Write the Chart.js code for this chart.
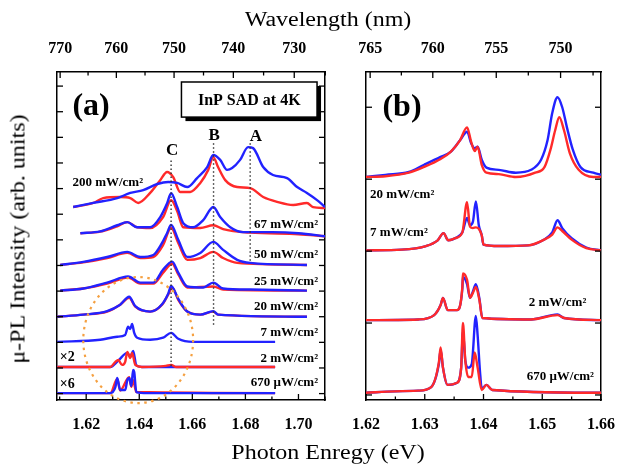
<!DOCTYPE html>
<html>
<head>
<meta charset="utf-8">
<script src="https://cdn.jsdelivr.net/npm/chart.js@4.4.0/dist/chart.umd.min.js"></script>
<style>
  body { margin: 0; background: #fff; width: 622px; height: 465px; position: relative; overflow: hidden; font-family: "Liberation Serif", serif; }
  canvas { position: absolute; top: 0; }
  #chartA { left: 0; }
  #chartB { left: 345px; }
  .axis-title { position: absolute; font-size: 20px; white-space: nowrap; color: #000; }
  #titleTop { left: 328px; top: 19px; transform: translate(-50%, -50%) scaleX(1.2); }
  #titleBottom { left: 328px; top: 452px; transform: translate(-50%, -50%) scaleX(1.2); }
  #titleLeft { left: 18px; top: 239px; transform: translate(-50%, -50%) rotate(-90deg) scaleX(1.2); }
</style>
</head>
<body>
<canvas id="chartA" width="345" height="465"></canvas>
<canvas id="chartB" width="277" height="465"></canvas>
<div class="axis-title" id="titleTop">Wavelength (nm)</div>
<div class="axis-title" id="titleBottom">Photon Enregy (eV)</div>
<div class="axis-title" id="titleLeft">μ-PL Intensity (arb. units)</div>
<script>
// ---- data: panel (a), photon energy (eV) vs intensity above each baseline ----
const powersA = ['200 mW/cm²', '67 mW/cm²', '50 mW/cm²', '25 mW/cm²', '20 mW/cm²', '7 mW/cm²', '2 mW/cm²', '670 μW/cm²'];
const offsetsA = [7.28, 6.26, 5.02, 4.02, 3.0, 2.02, 1.04, 0.02];

const a200Blue = [[1.6151,0],[1.6227,0.16],[1.6317,0.35],[1.6366,0.55],[1.6415,0.66],[1.6468,0.90],[1.6509,0.98],[1.6543,0.94],[1.6581,0.78],[1.6618,1.13],[1.6656,1.56],[1.6679,2.03],[1.6705,1.84],[1.6731,1.45],[1.6750,1.52],[1.6780,1.84],[1.6810,2.34],[1.6829,2.30],[1.6867,1.56],[1.6904,1.25],[1.6957,1.13],[1.6995,0.78],[1.7032,0.55],[1.7070,0.27],[1.7100,0]];
const a200Red = [[1.6151,0],[1.6227,0.16],[1.6264,0.35],[1.6328,0.39],[1.6366,0.35],[1.6396,0.16],[1.6441,0.55],[1.6479,1.05],[1.6505,1.37],[1.6528,1.17],[1.6554,0.59],[1.6592,0.59],[1.6630,0.94],[1.6660,1.45],[1.6679,1.95],[1.6697,1.56],[1.6724,1.05],[1.6769,0.78],[1.6818,0.74],[1.6867,0.39],[1.6920,0.20],[1.6980,0.08],[1.7032,0.16],[1.7055,0.0],[1.7100,-0.04]];
const a67Blue = [[1.6178,0],[1.6253,0.07],[1.6317,0.31],[1.6355,0.43],[1.6392,0.23],[1.6441,0.23],[1.6479,0.63],[1.6505,1.17],[1.6520,1.56],[1.6543,1.02],[1.6566,0.39],[1.6603,0.23],[1.6641,0.51],[1.6679,1.02],[1.6705,0.63],[1.6743,0.23],[1.6791,0.04],[1.6900,0.04],[1.7000,0],[1.7100,-0.12]];
const a67Red = [[1.6178,0],[1.6253,0.06],[1.6317,0.27],[1.6355,0.43],[1.6392,0.23],[1.6441,0.20],[1.6490,0.63],[1.6520,1.29],[1.6543,0.86],[1.6566,0.23],[1.6630,0.20],[1.6679,0.31],[1.6716,0.16],[1.6818,0.02],[1.7000,-0.04],[1.7100,-0.12]];
const a50Blue = [[1.6102,0],[1.6189,0.12],[1.6279,0.31],[1.6355,0.51],[1.6404,0.31],[1.6453,0.39],[1.6486,0.86],[1.6505,1.25],[1.6520,1.56],[1.6547,0.98],[1.6581,0.31],[1.6630,0.47],[1.6679,0.90],[1.6716,0.59],[1.6769,0.20],[1.6818,0.08],[1.7032,0]];
const a50Red = [[1.6102,0],[1.6189,0.10],[1.6279,0.27],[1.6355,0.47],[1.6404,0.27],[1.6453,0.31],[1.6490,0.78],[1.6520,1.45],[1.6547,0.86],[1.6581,0.20],[1.6630,0.27],[1.6679,0.51],[1.6716,0.27],[1.6769,0.08],[1.7032,0]];
const a25Blue = [[1.6102,0],[1.6189,0.08],[1.6279,0.31],[1.6358,0.55],[1.6404,0.31],[1.6453,0.31],[1.6490,0.82],[1.6524,1.13],[1.6547,0.70],[1.6581,0.16],[1.6641,0.12],[1.6679,0.31],[1.6716,0.08],[1.6818,0.04],[1.7032,0]];
const a25Red = [[1.6102,0],[1.6189,0.08],[1.6279,0.27],[1.6358,0.51],[1.6404,0.27],[1.6453,0.27],[1.6490,0.70],[1.6524,1.05],[1.6547,0.63],[1.6581,0.12],[1.6679,0.16],[1.6716,0.04],[1.7032,0]];
const a20Blue = [[1.6091,0],[1.6189,0.08],[1.6279,0.22],[1.6328,0.47],[1.6362,0.78],[1.6385,0.41],[1.6441,0.20],[1.6486,0.49],[1.6509,0.90],[1.6520,1.20],[1.6547,0.70],[1.6581,0.20],[1.6630,0.08],[1.6679,0.22],[1.6697,0.08],[1.7032,0]];
const a20Red = [[1.6091,0],[1.6189,0.08],[1.6279,0.20],[1.6328,0.47],[1.6362,0.74],[1.6385,0.39],[1.6441,0.20],[1.6486,0.47],[1.6509,0.86],[1.6524,1.13],[1.6547,0.66],[1.6581,0.20],[1.6630,0.08],[1.6679,0.20],[1.6697,0.08],[1.7032,0]];
const a7Blue = [[1.6091,0],[1.6253,0.08],[1.6317,0.20],[1.6347,0.27],[1.6358,0.59],[1.6366,0.50],[1.6373,0.70],[1.6381,0.35],[1.6392,0.16],[1.6441,0.08],[1.6490,0.16],[1.6520,0.35],[1.6547,0.12],[1.6603,0],[1.6912,0]];
const a2Blue = [[1.6091,0],[1.6291,0],[1.6321,0.25],[1.6355,0.55],[1.6366,0.40],[1.6377,0.62],[1.6389,0.06],[1.6410,0],[1.6912,0]];
const a2Red = [[1.6091,0],[1.6291,0],[1.6310,0.20],[1.6321,0.27],[1.6335,0.08],[1.6347,0.20],[1.6355,0.59],[1.6366,0.35],[1.6373,0.55],[1.6385,0.08],[1.6410,0],[1.6500,0.04],[1.6520,0.08],[1.6540,0],[1.6912,0]];
const a670Blue = [[1.6091,0],[1.6291,0],[1.6310,0.23],[1.6317,0.59],[1.6328,0.12],[1.6347,0.12],[1.6355,0.51],[1.6362,0.59],[1.6370,0.27],[1.6377,0.90],[1.6381,0.82],[1.6389,0.04],[1.6430,0],[1.6912,0]];
const a670Red = [[1.6091,0],[1.6291,0],[1.6317,0.55],[1.6328,0.10],[1.6362,0.62],[1.6370,0.25],[1.6377,0.50],[1.6389,0.04],[1.6912,0]];

// peak markers A, B, C: energy and vertical extent
const peakNames = ['C', 'B', 'A'];
const peakEnergy = [1.652, 1.668, 1.6818];
const peakTop = [9.1, 9.77, 9.77];
const peakBottom = [1.04, 2.68, 5.1];

// ---- data: panel (b) ----
const powersB = ['20 mW/cm²', '7 mW/cm²', '2 mW/cm²', '670 μW/cm²'];
const offsetsB = [3.03, 2.01, 1.04, 0.03];

const b20Blue = [[1.6200,0],[1.6233,0.03],[1.6273,0.07],[1.6299,0.17],[1.6327,0.28],[1.6344,0.35],[1.6360,0.51],[1.6372,0.63],[1.6379,0.47],[1.6385,0.40],[1.6390,0.42],[1.6397,0.24],[1.6405,0.13],[1.6426,0.10],[1.6455,0.06],[1.6481,0.10],[1.6498,0.24],[1.6509,0.51],[1.6517,0.89],[1.6526,1.11],[1.6534,0.97],[1.6542,0.69],[1.6552,0.38],[1.6565,0.14],[1.6587,0.06],[1.6600,0.03]];
const b20Red = [[1.6200,0],[1.6233,0.01],[1.6273,0.06],[1.6299,0.14],[1.6327,0.25],[1.6344,0.35],[1.6360,0.51],[1.6372,0.69],[1.6379,0.49],[1.6385,0.36],[1.6390,0.42],[1.6397,0.17],[1.6405,0.06],[1.6426,0.04],[1.6455,0.0],[1.6488,0.06],[1.6504,0.14],[1.6514,0.38],[1.6522,0.65],[1.6529,0.83],[1.6537,0.65],[1.6547,0.33],[1.6562,0.10],[1.6587,0.0],[1.6600,0.0]];
const b7Blue = [[1.6200,0],[1.6261,0.01],[1.6302,0.06],[1.6322,0.14],[1.6332,0.24],[1.6340,0.14],[1.6352,0.17],[1.6364,0.25],[1.6372,0.45],[1.6377,0.35],[1.6382,0.40],[1.6387,0.68],[1.6392,0.35],[1.6397,0.21],[1.6400,0.08],[1.6426,0.06],[1.6476,0.07],[1.6501,0.14],[1.6517,0.25],[1.6526,0.42],[1.6534,0.31],[1.6550,0.17],[1.6575,0.04],[1.6600,0]];
const b7Red = [[1.6200,0],[1.6261,0.01],[1.6302,0.06],[1.6322,0.14],[1.6332,0.24],[1.6340,0.14],[1.6352,0.17],[1.6364,0.25],[1.6372,0.67],[1.6377,0.33],[1.6382,0.31],[1.6387,0.32],[1.6392,0.30],[1.6397,0.21],[1.6400,0.08],[1.6426,0.06],[1.6476,0.07],[1.6501,0.14],[1.6517,0.22],[1.6526,0.32],[1.6534,0.27],[1.6550,0.15],[1.6575,0.03],[1.6600,0]];
const b2Blue = [[1.6200,0],[1.6289,0.01],[1.6316,0.07],[1.6327,0.21],[1.6331,0.31],[1.6339,0.14],[1.6355,0.14],[1.6364,0.44],[1.6365,0.60],[1.6372,0.50],[1.6377,0.31],[1.6382,0.40],[1.6387,0.50],[1.6393,0.30],[1.6398,0.03],[1.6481,0.01],[1.6526,0.08],[1.6537,0.03],[1.6600,0]];
const b2Red = [[1.6200,0],[1.6289,0.01],[1.6316,0.07],[1.6327,0.21],[1.6331,0.31],[1.6339,0.14],[1.6355,0.14],[1.6364,0.46],[1.6365,0.65],[1.6372,0.56],[1.6377,0.31],[1.6382,0.38],[1.6387,0.46],[1.6393,0.28],[1.6398,0.03],[1.6481,0.01],[1.6526,0.07],[1.6537,0.03],[1.6600,0]];
const b670Blue = [[1.6200,0],[1.6250,0.02],[1.6289,0.03],[1.6311,0.08],[1.6324,0.40],[1.6327,0.60],[1.6331,0.35],[1.6339,0.11],[1.6355,0.14],[1.6362,0.35],[1.6365,0.85],[1.6369,0.45],[1.6374,0.35],[1.6380,0.40],[1.6387,1.07],[1.6390,0.80],[1.6394,0.30],[1.6397,0.06],[1.6405,0.11],[1.6415,0.04],[1.6600,0]];
const b670Red = [[1.6200,0],[1.6250,0.02],[1.6289,0.03],[1.6311,0.08],[1.6324,0.42],[1.6327,0.63],[1.6331,0.35],[1.6339,0.11],[1.6355,0.14],[1.6362,0.35],[1.6365,0.97],[1.6369,0.45],[1.6374,0.22],[1.6380,0.22],[1.6385,0.56],[1.6390,0.35],[1.6397,0.04],[1.6405,0.11],[1.6415,0.04],[1.6600,0]];

// ---- axis ticks ----
const energyTicksA = [1.61, 1.62, 1.63, 1.64, 1.65, 1.66, 1.67, 1.68, 1.69, 1.70, 1.71];
const wavelengthTicksA = [770, 765, 760, 755, 750, 745, 740, 735, 730, 725];
const energyTicksB = [1.62, 1.625, 1.63, 1.635, 1.64, 1.645, 1.65, 1.655, 1.66];
const wavelengthTicksB = [765, 762.5, 760, 757.5, 755, 752.5, 750, 747.5];
const yTicksA = [0, 1, 2, 3, 4, 5, 6, 7, 8, 9, 10, 11, 12];
const yTicksB = [0, 1, 2, 3, 4];

const HC = 1239.84; // eV*nm
const BLUE = '#2222ff';
const RED = '#ff2a2a';

Chart.defaults.font.family = '"Liberation Serif", serif';
Chart.defaults.color = '#000';

function trace(pairs, offset, color, order) {
    return {
        data: pairs.map(p => ({ x: p[0], y: p[1] + offset })),
        borderColor: color,
        borderWidth: 2.4,
        pointRadius: 0,
        cubicInterpolationMode: 'monotone',
        order: order,
        xAxisID: 'x',
        yAxisID: 'y'
    };
}

function dotted(e, y0, y1) {
    return {
        data: [{ x: e, y: y0 }, { x: e, y: y1 }],
        borderColor: '#333',
        borderWidth: 1.4,
        borderDash: [1.5, 2.5],
        pointRadius: 0,
        order: 0,
        xAxisID: 'x',
        yAxisID: 'y'
    };
}

const tickFont = { size: 16, weight: 'bold' };

function energyAxis(ticks, isBig, fmt, min, max) {
    return {
        type: 'linear', position: 'bottom', min: min, max: max,
        grid: { display: false },
        border: { color: '#000', width: 1.5 },
        afterBuildTicks: s => { s.ticks = ticks.map(v => ({ value: v, big: isBig(v) })); },
        ticks: { font: tickFont, padding: 7, autoSkip: false, maxRotation: 0,
                 callback: (v, i, ts) => ts[i].big ? fmt(v) : '' },
        afterFit: s => { s.height = 65; }
    };
}

function wavelengthAxis(ticks, isBig, min, max) {
    return {
        type: 'linear', position: 'top', min: min, max: max,
        grid: { display: false },
        border: { color: '#000', width: 1.5 },
        afterBuildTicks: s => { s.ticks = ticks.map(w => ({ value: HC / w, big: isBig(w), lab: String(w) })); },
        ticks: { font: tickFont, padding: 6, autoSkip: false, maxRotation: 0,
                 callback: (v, i, ts) => ts[i].big ? ts[i].lab : '' },
        afterFit: s => { s.height = 72; }
    };
}

function intensityAxis(pos, ticks, min, max, width) {
    return {
        type: 'linear', position: pos, min: min, max: max,
        grid: { display: false },
        border: { color: '#000', width: 1.5 },
        afterBuildTicks: s => { s.ticks = ticks.map(v => ({ value: v, big: true })); },
        ticks: { display: false },
        afterFit: s => { s.width = width; }
    };
}

// ticks drawn inward, on all four sides
const inwardTicks = {
    id: 'inwardTicks',
    afterDraw(chart) {
        const ctx = chart.ctx, a = chart.chartArea;
        ctx.save();
        ctx.strokeStyle = '#000';
        ctx.lineWidth = 1.3;
        Object.values(chart.scales).forEach(s => {
            s.ticks.forEach(t => {
                const len = t.big ? 6 : 3.5;
                const p = s.getPixelForValue(t.value);
                ctx.beginPath();
                if (s.position === 'bottom') { ctx.moveTo(p, a.bottom); ctx.lineTo(p, a.bottom - len); }
                if (s.position === 'top') { ctx.moveTo(p, a.top); ctx.lineTo(p, a.top + len); }
                if (s.position === 'left') { ctx.moveTo(a.left, p); ctx.lineTo(a.left + len, p); }
                if (s.position === 'right') { ctx.moveTo(a.right, p); ctx.lineTo(a.right - len, p); }
                ctx.stroke();
            });
        });
        ctx.restore();
    }
};

// text, box and ellipse annotations, placed in data coordinates
const notes = {
    id: 'notes',
    afterDatasetsDraw(chart, args, opts) {
        const ctx = chart.ctx, xs = chart.scales.x, ys = chart.scales.y;
        const px = v => xs.getPixelForValue(v), py = v => ys.getPixelForValue(v);
        ctx.save();
        if (opts.ellipse) {
            const el = opts.ellipse;
            ctx.strokeStyle = '#f5a040';
            ctx.lineWidth = 2.2;
            ctx.setLineDash([2.5, 4.5]);
            ctx.beginPath();
            ctx.ellipse(px(el.x), py(el.y), Math.abs(px(el.x + el.rx) - px(el.x)), Math.abs(py(el.y + el.ry) - py(el.y)), 0, 0, Math.PI * 2);
            ctx.stroke();
            ctx.setLineDash([]);
        }
        if (opts.box) {
            const b = opts.box;
            const x0 = px(b.x0), x1 = px(b.x1), y0 = py(b.y0), y1 = py(b.y1);
            ctx.fillStyle = '#000';
            ctx.fillRect(x0 + 4, y0 + 4, x1 - x0, y1 - y0);
            ctx.fillStyle = '#fff';
            ctx.fillRect(x0, y0, x1 - x0, y1 - y0);
            ctx.strokeStyle = '#000';
            ctx.lineWidth = 1.5;
            ctx.strokeRect(x0, y0, x1 - x0, y1 - y0);
            ctx.fillStyle = '#000';
            ctx.font = 'bold 16px "Liberation Serif"';
            ctx.textAlign = 'center';
            ctx.textBaseline = 'middle';
            ctx.fillText(b.text, (x0 + x1) / 2, (y0 + y1) / 2 + 1);
        }
        ctx.fillStyle = '#000';
        ctx.textBaseline = 'middle';
        opts.texts.forEach(t => {
            ctx.font = 'bold ' + t.size + 'px "Liberation Serif"';
            ctx.textAlign = t.align;
            ctx.fillText(t.text, px(t.x), py(t.y));
        });
        ctx.restore();
    }
};

// ---- panel (a) ----
const dataA = [
    trace(a200Red, offsetsA[0], RED, 3), trace(a200Blue, offsetsA[0], BLUE, 2),
    trace(a67Red, offsetsA[1], RED, 3), trace(a67Blue, offsetsA[1], BLUE, 2),
    trace(a50Red, offsetsA[2], RED, 3), trace(a50Blue, offsetsA[2], BLUE, 2),
    trace(a25Red, offsetsA[3], RED, 3), trace(a25Blue, offsetsA[3], BLUE, 2),
    trace(a20Red, offsetsA[4], RED, 3), trace(a20Blue, offsetsA[4], BLUE, 2),
    trace(a7Blue, offsetsA[5], BLUE, 2),
    trace(a2Blue, offsetsA[6], BLUE, 3), trace(a2Red, offsetsA[6], RED, 2),
    trace(a670Red, offsetsA[7], RED, 3), trace(a670Blue, offsetsA[7], BLUE, 2)
];
peakEnergy.forEach((e, i) => dataA.push(dotted(e, peakTop[i], peakBottom[i])));

const textsA = [
    { text: '(a)', x: 1.6148, y: 11.18, align: 'left', size: 32 },
    { text: powersA[0], x: 1.6148, y: 8.22, align: 'left', size: 13 },
    { text: powersA[1], x: 1.7074, y: 6.58, align: 'right', size: 13 },
    { text: powersA[2], x: 1.7074, y: 5.41, align: 'right', size: 13 },
    { text: powersA[3], x: 1.7074, y: 4.36, align: 'right', size: 13 },
    { text: powersA[4], x: 1.7074, y: 3.38, align: 'right', size: 13 },
    { text: powersA[5], x: 1.7074, y: 2.36, align: 'right', size: 13 },
    { text: powersA[6], x: 1.7074, y: 1.38, align: 'right', size: 13 },
    { text: powersA[7], x: 1.7074, y: 0.41, align: 'right', size: 13 },
    { text: '×2', x: 1.6129, y: 1.43, align: 'center', size: 14 },
    { text: '×6', x: 1.6129, y: 0.34, align: 'center', size: 14 },
    { text: peakNames[0], x: 1.6524, y: 9.5, align: 'center', size: 17 },
    { text: peakNames[1], x: 1.6682, y: 10.05, align: 'center', size: 17 },
    { text: peakNames[2], x: 1.6840, y: 10.01, align: 'center', size: 17 }
];

new Chart(document.getElementById('chartA'), {
    type: 'line',
    data: { datasets: dataA },
    options: {
        responsive: false,
        animation: false,
        layout: { padding: 0 },
        plugins: {
            legend: { display: false },
            tooltip: { enabled: false },
            notes: {
                texts: textsA,
                box: { text: 'InP SAD at 4K', x0: 1.6559, x1: 1.7070, y0: 12.16, y1: 10.79 },
                ellipse: { x: 1.6396, y: 2.09, rx: 0.0207, ry: 2.46 }
            }
        },
        scales: {
            x: energyAxis(energyTicksA, v => Math.round(v * 100) % 2 === 0, v => v.toFixed(2), 1.609, 1.710),
            xTop: wavelengthAxis(wavelengthTicksA, w => w % 10 === 0, 1.609, 1.710),
            y: intensityAxis('left', yTicksA, -0.25, 12.55, 57),
            yRight: intensityAxis('right', yTicksA, -0.25, 12.55, 20)
        }
    },
    plugins: [inwardTicks, notes]
});

// ---- panel (b) ----
const dataB = [
    trace(b20Blue, offsetsB[0], BLUE, 3), trace(b20Red, offsetsB[0], RED, 2),
    trace(b7Blue, offsetsB[1], BLUE, 3), trace(b7Red, offsetsB[1], RED, 2),
    trace(b2Blue, offsetsB[2], BLUE, 3), trace(b2Red, offsetsB[2], RED, 2),
    trace(b670Blue, offsetsB[3], BLUE, 3), trace(b670Red, offsetsB[3], RED, 2)
];

const textsB = [
    { text: '(b)', x: 1.6228, y: 4.0, align: 'left', size: 32 },
    { text: powersB[0], x: 1.6207, y: 2.79, align: 'left', size: 13 },
    { text: powersB[1], x: 1.6207, y: 2.26, align: 'left', size: 13 },
    { text: powersB[2], x: 1.6575, y: 1.28, align: 'right', size: 13 },
    { text: powersB[3], x: 1.6588, y: 0.25, align: 'right', size: 13 }
];

new Chart(document.getElementById('chartB'), {
    type: 'line',
    data: { datasets: dataB },
    options: {
        responsive: false,
        animation: false,
        layout: { padding: 0 },
        plugins: {
            legend: { display: false },
            tooltip: { enabled: false },
            notes: { texts: textsB }
        },
        scales: {
            x: energyAxis(energyTicksB, v => Math.abs(v * 100 - Math.round(v * 100)) < 1e-6, v => v.toFixed(2), 1.62, 1.66),
            xTop: wavelengthAxis(wavelengthTicksB, w => w % 5 === 0, 1.62, 1.66),
            y: intensityAxis('left', yTicksB, -0.07, 4.49, 18),
            yRight: intensityAxis('right', yTicksB, -0.07, 4.49, 17)
        }
    },
    plugins: [inwardTicks, notes]
});
</script>
</body>
</html>
